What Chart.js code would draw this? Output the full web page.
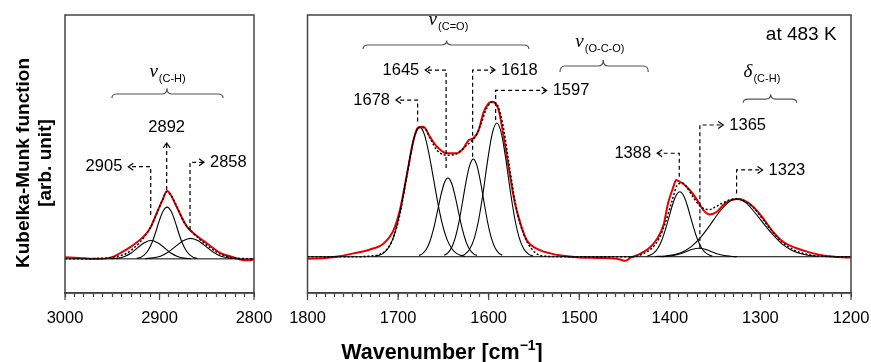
<!DOCTYPE html>
<html>
<head>
<meta charset="utf-8">
<script src="https://cdn.jsdelivr.net/npm/chart.js@4.4.0/dist/chart.umd.min.js"></script>
<style>
  html, body { margin: 0; padding: 0; background: #fff; }
  #wrap { position: relative; width: 871px; height: 362px; overflow: hidden; }
  #chLeft { position: absolute; left: 0; top: 0; }
  #chRight { position: absolute; left: 280px; top: 0; }
</style>
</head>
<body>
<div id="wrap">
  <canvas id="chLeft" width="290" height="362"></canvas>
  <canvas id="chRight" width="591" height="362"></canvas>
</div>
<script>
// ---- C-H stretching region (left panel) ----
const leftRange = [3000, 2800];
const leftMeasWn = [3000, 2985, 2970, 2956, 2948, 2942, 2931, 2917, 2910, 2903, 2897, 2892, 2888, 2882, 2871, 2864, 2850, 2836, 2822, 2812, 2806, 2800];
const leftMeasKm = [0.07, 0.04, 0.0, 0.02, 0.10, 0.23, 0.48, 0.91, 1.25, 1.87, 2.40, 2.78, 2.62, 2.14, 1.32, 1.05, 0.64, 0.25, 0.07, -0.05, -0.06, -0.02];
const leftFitWn = [3000, 2960, 2945, 2935, 2925, 2917, 2910, 2903, 2897, 2892, 2887, 2881, 2874, 2866, 2858, 2848, 2838, 2826, 2812, 2800];
const leftFitKm = [0.0, 0.02, 0.10, 0.22, 0.52, 0.85, 1.26, 1.85, 2.40, 2.76, 2.55, 2.10, 1.50, 1.12, 0.82, 0.50, 0.24, 0.07, 0.01, 0.0];
const p2905Wn = [2951, 2944, 2937, 2930, 2923, 2916, 2909, 2902, 2895, 2888, 2881, 2874, 2867];
const p2905Km = [0.01, 0.03, 0.10, 0.24, 0.46, 0.66, 0.75, 0.66, 0.46, 0.24, 0.10, 0.03, 0.01];
const p2892Wn = [2924, 2920, 2916, 2912, 2908, 2904, 2900, 2896, 2892, 2888, 2884, 2880, 2876, 2872, 2868, 2864, 2860];
const p2892Km = [0.02, 0.06, 0.16, 0.35, 0.66, 1.10, 1.59, 1.97, 2.12, 1.97, 1.59, 1.10, 0.66, 0.35, 0.16, 0.06, 0.02];
const p2858Wn = [2915, 2907, 2899, 2891, 2883, 2875, 2867, 2859, 2851, 2843, 2835, 2827, 2819];
const p2858Km = [0.01, 0.04, 0.11, 0.27, 0.51, 0.74, 0.84, 0.74, 0.51, 0.27, 0.11, 0.04, 0.01];

// ---- 1800-1200 region (right panel) ----
const rightRange = [1800, 1200];
const rightMeasWn = [1800, 1780, 1765, 1749, 1731, 1716, 1705, 1698, 1690, 1683, 1678, 1672, 1665, 1657, 1646, 1635, 1628, 1622, 1617, 1611, 1606, 1600, 1596, 1589, 1584, 1578, 1571, 1565, 1558, 1544, 1532, 1520, 1500, 1480, 1462, 1456, 1449, 1443, 1434, 1423, 1415, 1407, 1402, 1396, 1393, 1391, 1385, 1378, 1370, 1363, 1356, 1348, 1341, 1334, 1326, 1319, 1308, 1297, 1286, 1275, 1260, 1245, 1227, 1205, 1200];
const rightMeasKm = [-0.08, -0.05, 0.02, 0.14, 0.30, 0.55, 1.10, 1.93, 3.45, 4.83, 5.35, 5.38, 4.97, 4.55, 4.28, 4.28, 4.48, 4.83, 4.90, 5.24, 5.93, 6.35, 6.41, 6.07, 5.10, 3.72, 2.21, 1.38, 0.69, 0.28, 0.14, 0.05, -0.03, -0.05, -0.07, -0.10, -0.17, -0.03, 0.10, 0.35, 0.69, 1.31, 2.21, 2.90, 3.17, 3.14, 3.01, 2.76, 2.35, 1.93, 1.75, 1.86, 2.14, 2.32, 2.39, 2.35, 2.07, 1.59, 1.03, 0.62, 0.35, 0.17, 0.03, -0.03, -0.03];
const rightFitWn = [1800, 1745, 1730, 1720, 1712, 1705, 1698, 1690, 1683, 1677, 1671, 1664, 1657, 1650, 1645, 1638, 1632, 1626, 1620, 1614, 1608, 1602, 1596, 1590, 1584, 1578, 1571, 1565, 1558, 1548, 1538, 1500, 1440, 1428, 1420, 1412, 1405, 1398, 1392, 1386, 1380, 1374, 1368, 1362, 1356, 1350, 1342, 1334, 1326, 1318, 1308, 1298, 1288, 1276, 1266, 1256, 1246, 1236, 1226, 1200];
const rightFitKm = [0, 0, 0.03, 0.10, 0.32, 0.80, 1.75, 3.40, 4.80, 5.35, 5.33, 4.85, 4.40, 4.22, 4.20, 4.22, 4.35, 4.55, 4.75, 5.00, 5.55, 6.15, 6.40, 6.25, 5.40, 3.95, 2.30, 1.35, 0.65, 0.15, 0.02, 0, 0, 0.15, 0.35, 0.75, 1.40, 2.25, 2.95, 3.05, 2.80, 2.45, 2.15, 1.98, 1.95, 2.05, 2.22, 2.35, 2.40, 2.30, 2.05, 1.58, 1.10, 0.60, 0.34, 0.17, 0.08, 0.03, 0.01, 0];
const p1678Wn = [1726, 1721, 1716, 1711, 1706, 1701, 1696, 1691, 1686, 1681, 1676, 1671, 1666, 1661, 1656, 1651, 1646, 1641, 1636, 1631, 1626];
const p1678Km = [0.02, 0.06, 0.15, 0.35, 0.72, 1.33, 2.20, 3.25, 4.28, 5.06, 5.35, 5.06, 4.28, 3.25, 2.20, 1.33, 0.72, 0.35, 0.15, 0.06, 0.02];
const p1645Wn = [1677, 1673, 1669, 1665, 1661, 1657, 1653, 1649, 1645, 1641, 1637, 1633, 1629, 1625, 1621, 1617, 1613];
const p1645Km = [0.05, 0.13, 0.30, 0.62, 1.13, 1.80, 2.50, 3.05, 3.26, 3.05, 2.50, 1.80, 1.13, 0.62, 0.30, 0.13, 0.05];
const p1618Wn = [1649, 1645, 1641, 1637, 1633, 1629, 1625, 1621, 1617, 1613, 1609, 1605, 1601, 1597, 1593, 1589, 1585];
const p1618Km = [0.06, 0.16, 0.37, 0.77, 1.40, 2.23, 3.10, 3.78, 4.04, 3.78, 3.10, 2.23, 1.40, 0.77, 0.37, 0.16, 0.06];
const p1597Wn = [1631, 1626, 1621, 1616, 1611, 1606, 1601, 1596, 1591, 1586, 1581, 1576, 1571, 1566, 1561, 1556, 1551];
const p1597Km = [0.03, 0.11, 0.31, 0.75, 1.54, 2.69, 4.02, 5.10, 5.53, 5.10, 4.02, 2.69, 1.54, 0.75, 0.31, 0.11, 0.03];
const p1388Wn = [1425, 1421, 1417, 1413, 1409, 1405, 1401, 1397, 1393, 1389, 1385, 1381, 1377, 1373, 1369, 1365, 1361, 1357, 1353];
const p1388Km = [0.03, 0.08, 0.18, 0.36, 0.67, 1.11, 1.63, 2.15, 2.54, 2.69, 2.54, 2.15, 1.63, 1.11, 0.67, 0.36, 0.18, 0.08, 0.03];
const p1365Wn = [1410, 1403, 1396, 1389, 1382, 1375, 1368, 1361, 1354, 1347, 1340, 1333, 1326];
const p1365Km = [0.0, 0.02, 0.05, 0.11, 0.21, 0.31, 0.35, 0.31, 0.21, 0.11, 0.05, 0.02, 0.0];
const p1323Wn = [1416, 1406, 1396, 1386, 1376, 1366, 1356, 1346, 1336, 1326, 1316, 1306, 1296, 1286, 1276, 1266, 1256, 1246, 1236];
const p1323Km = [0.01, 0.03, 0.08, 0.20, 0.43, 0.80, 1.29, 1.82, 2.23, 2.39, 2.23, 1.82, 1.35, 0.90, 0.52, 0.28, 0.13, 0.05, 0.02];

// peak call-outs and band groups (anchored in data units)
const leftCallouts = [
  { text: "2905", wn: 2909.3, from: 1.80, to: 3.78, tip: 2933, side: "left" },
  { text: "2858", wn: 2867.7, from: 1.18, to: 3.96, tip: 2852.9, side: "right" },
  { text: "2892", wn: 2892.4, from: 2.82, to: 4.75, side: "up", label: 5.37 },
];
const rightCallouts = [
  { text: "1678", wn: 1678.4, from: 5.59, to: 6.48, tip: 1702.3, side: "left" },
  { text: "1645", wn: 1647, from: 3.67, to: 7.72, tip: 1670, side: "left" },
  { text: "1618", wn: 1617.7, from: 4.14, to: 7.72, tip: 1593, side: "right" },
  { text: "1597", wn: 1592.3, from: 5.66, to: 6.88, tip: 1536, side: "right" },
  { text: "1388", wn: 1389.6, from: 3.31, to: 4.28, tip: 1414, side: "left" },
  { text: "1365", wn: 1366.8, from: 0.35, to: 5.45, tip: 1341, side: "right" },
  { text: "1323", wn: 1326.3, from: 2.62, to: 3.59, tip: 1297.6, side: "right" },
];
const leftGroups = [
  { sym: "ν", sub: "(C-H)", from: 2950.3, to: 2832.8, mid: 2892.1, end: 6.60, flat: 6.76, cusp: 7.0, lx: 2891.5, ly: 7.66 },
];
const rightGroups = [
  { sym: "ν", sub: "(C=O)", from: 1738.7, to: 1555.5, mid: 1646.4, end: 8.59, flat: 8.76, cusp: 8.94, lx: 1644.4, ly: 9.79 },
  { sym: "ν", sub: "(O-C-O)", from: 1521.3, to: 1423.8, mid: 1473.5, end: 7.64, flat: 7.89, cusp: 8.14, lx: 1477.2, ly: 8.88 },
  { sym: "δ", sub: "(C-H)", from: 1319, to: 1260, mid: 1288.7, end: 6.37, flat: 6.52, cusp: 6.72, lx: 1298.3, ly: 7.65 },
];

const SANS = '"Liberation Sans", Arial, sans-serif';

function pts(xs, ys) {
  return xs.map((x, i) => ({ x: x, y: ys[i] }));
}

function comp(xs, ys) {
  return { data: pts(xs, ys), borderColor: "#000", borderWidth: 1.1, pointRadius: 0, cubicInterpolationMode: "monotone" };
}

function drawCallouts(chart, list) {
  const ctx = chart.ctx;
  const x = chart.scales.x, y = chart.scales.y;
  ctx.save();
  ctx.strokeStyle = "#000";
  ctx.fillStyle = "#000";
  ctx.lineWidth = 1.2;
  ctx.font = "16.5px " + SANS;
  ctx.textBaseline = "middle";
  list.forEach((c) => {
    const px = x.getPixelForValue(c.wn);
    const y0 = y.getPixelForValue(c.from);
    const y1 = y.getPixelForValue(c.to);
    const tx = c.side === "up" ? px : x.getPixelForValue(c.tip);
    ctx.setLineDash([4, 3]);
    ctx.beginPath();
    ctx.moveTo(px, y0);
    ctx.lineTo(px, y1);
    if (c.side !== "up") ctx.lineTo(tx, y1);
    ctx.stroke();
    ctx.setLineDash([]);
    ctx.beginPath();
    if (c.side === "up") {
      ctx.moveTo(px - 3.5, y1 + 5);
      ctx.lineTo(px, y1);
      ctx.lineTo(px + 3.5, y1 + 5);
      ctx.stroke();
      ctx.textAlign = "center";
      ctx.fillText(c.text, px, y.getPixelForValue(c.label));
    } else {
      const d = c.side === "left" ? 1 : -1;
      ctx.moveTo(tx + d * 5, y1 - 3.5);
      ctx.lineTo(tx, y1);
      ctx.lineTo(tx + d * 5, y1 + 3.5);
      ctx.stroke();
      ctx.textAlign = c.side === "left" ? "right" : "left";
      ctx.fillText(c.text, tx - d * 6, y1);
    }
  });
  ctx.restore();
}

function drawGroups(chart, list) {
  const ctx = chart.ctx;
  const x = chart.scales.x, y = chart.scales.y;
  ctx.save();
  ctx.strokeStyle = "#555";
  ctx.lineWidth = 1.2;
  ctx.fillStyle = "#000";
  ctx.textBaseline = "middle";
  ctx.textAlign = "left";
  list.forEach((g) => {
    const x1 = x.getPixelForValue(g.from), x2 = x.getPixelForValue(g.to), xm = x.getPixelForValue(g.mid);
    const ye = y.getPixelForValue(g.end), yf = y.getPixelForValue(g.flat), yc = y.getPixelForValue(g.cusp);
    const r = 5;
    ctx.beginPath();
    ctx.moveTo(x1, ye);
    ctx.quadraticCurveTo(x1, yf, x1 + r, yf);
    ctx.lineTo(xm - r, yf);
    ctx.quadraticCurveTo(xm, yf, xm, yc);
    ctx.quadraticCurveTo(xm, yf, xm + r, yf);
    ctx.lineTo(x2 - r, yf);
    ctx.quadraticCurveTo(x2, yf, x2, ye);
    ctx.stroke();

    const lx = x.getPixelForValue(g.lx), ly = y.getPixelForValue(g.ly);
    ctx.font = 'italic 19px "Liberation Serif", "Times New Roman", serif';
    const w1 = ctx.measureText(g.sym).width;
    ctx.font = "11px " + SANS;
    const w2 = ctx.measureText(g.sub).width;
    const sx = lx - (w1 + w2 + 1) / 2;
    ctx.font = 'italic 19px "Liberation Serif", "Times New Roman", serif';
    ctx.fillText(g.sym, sx, ly);
    ctx.font = "11px " + SANS;
    ctx.fillText(g.sub, sx + w1 + 1, ly + 7);
  });
  ctx.restore();
}

// frame + long ticks at the labelled positions
function drawFrame(chart) {
  const ctx = chart.ctx;
  const a = chart.chartArea;
  const x = chart.scales.x;
  ctx.save();
  ctx.strokeStyle = "#444";
  ctx.lineWidth = 1.5;
  ctx.strokeRect(a.left, a.top, a.right - a.left, a.bottom - a.top);
  ctx.lineWidth = 1.2;
  ctx.beginPath();
  x.ticks.forEach((t) => {
    if (t.value % 100 === 0) {
      const px = x.getPixelForValue(t.value);
      ctx.moveTo(px, a.bottom);
      ctx.lineTo(px, a.bottom + 7);
    }
  });
  ctx.stroke();
  ctx.restore();
}

function baseOptions(range, yMin, pad) {
  return {
    responsive: false,
    animation: false,
    devicePixelRatio: 1,
    layout: { padding: pad },
    plugins: { legend: { display: false }, tooltip: { enabled: false } },
    scales: {
      x: {
        type: "linear",
        reverse: true,
        min: range[1],
        max: range[0],
        afterFit: (s) => { s.height = 69; s.paddingLeft = 0; s.paddingRight = 0; },
        grid: { drawOnChartArea: false, drawTicks: true, tickLength: 4, tickColor: "#444", tickWidth: 1.2 },
        border: { display: true, color: "#444", width: 1.5 },
        ticks: {
          stepSize: 10,
          autoSkip: false,
          maxRotation: 0,
          padding: 12,
          color: "#000",
          font: { family: SANS, size: 16.5 },
          callback: (v) => (v % 100 === 0 ? String(v) : ""),
        },
      },
      y: { display: false, min: yMin, max: 10 },
    },
  };
}

const leftDatasets = [
  { data: pts(leftFitWn, leftFitKm), borderColor: "#000", borderWidth: 1.5, borderDash: [2, 2], pointRadius: 0, cubicInterpolationMode: "monotone" },
  comp(p2905Wn, p2905Km),
  comp(p2892Wn, p2892Km),
  comp(p2858Wn, p2858Km),
  { data: pts(leftRange, [0, 0]), borderColor: "#000", borderWidth: 1, pointRadius: 0 },
  { data: pts(leftMeasWn, leftMeasKm), borderColor: "#e60000", borderWidth: 2, pointRadius: 0, cubicInterpolationMode: "monotone" },
];

const rightDatasets = [
  { data: pts(rightFitWn, rightFitKm), borderColor: "#000", borderWidth: 1.5, borderDash: [2, 2], pointRadius: 0, cubicInterpolationMode: "monotone" },
  comp(p1678Wn, p1678Km),
  comp(p1645Wn, p1645Km),
  comp(p1618Wn, p1618Km),
  comp(p1597Wn, p1597Km),
  comp(p1388Wn, p1388Km),
  comp(p1365Wn, p1365Km),
  comp(p1323Wn, p1323Km),
  { data: pts(rightRange, [0, 0]), borderColor: "#000", borderWidth: 1, pointRadius: 0 },
  { data: pts(rightMeasWn, rightMeasKm), borderColor: "#e60000", borderWidth: 2, pointRadius: 0, cubicInterpolationMode: "monotone" },
];

new Chart(document.getElementById("chLeft"), {
  type: "line",
  data: { datasets: leftDatasets },
  options: baseOptions(leftRange, -1.4, { left: 65, right: 36, top: 15, bottom: 0 }),
  plugins: [{
    id: "leftDeco",
    afterDraw(chart) {
      drawFrame(chart);
      drawGroups(chart, leftGroups);
      drawCallouts(chart, leftCallouts);
      // y axis title
      const ctx = chart.ctx;
      ctx.save();
      ctx.translate(24, 163);
      ctx.rotate(-Math.PI / 2);
      ctx.font = "bold 19px " + SANS;
      ctx.fillStyle = "#000";
      ctx.textAlign = "center";
      ctx.textBaseline = "middle";
      ctx.fillText("Kubelka-Munk function", 0, 0);
      ctx.fillText("[arb. unit]", 0, 22);
      ctx.restore();
    },
  }],
});

new Chart(document.getElementById("chRight"), {
  type: "line",
  data: { datasets: rightDatasets },
  options: baseOptions(rightRange, -1.5, { left: 27.5, right: 20, top: 15, bottom: 0 }),
  plugins: [{
    id: "rightDeco",
    afterDraw(chart) {
      drawFrame(chart);
      drawGroups(chart, rightGroups);
      drawCallouts(chart, rightCallouts);
      const ctx = chart.ctx;
      const x = chart.scales.x, y = chart.scales.y;
      ctx.save();
      ctx.fillStyle = "#000";
      ctx.textBaseline = "middle";
      ctx.font = "19px " + SANS;
      ctx.textAlign = "right";
      ctx.fillText("at 483 K", x.getPixelForValue(1215.9), y.getPixelForValue(9.2));
      // x axis title
      ctx.font = "bold 21.5px " + SANS;
      ctx.textAlign = "left";
      const t1 = "Wavenumber [cm";
      const w1 = ctx.measureText(t1).width;
      ctx.font = "bold 14px " + SANS;
      const w2 = ctx.measureText("\u22121").width;
      ctx.font = "bold 21.5px " + SANS;
      const w3 = ctx.measureText("]").width;
      let sx = 162 - (w1 + w2 + w3) / 2;
      ctx.fillText(t1, sx, 353);
      ctx.font = "bold 14px " + SANS;
      ctx.fillText("\u22121", sx + w1, 346);
      ctx.font = "bold 21.5px " + SANS;
      ctx.fillText("]", sx + w1 + w2, 353);
      ctx.restore();
    },
  }],
});
</script>
</body>
</html>
